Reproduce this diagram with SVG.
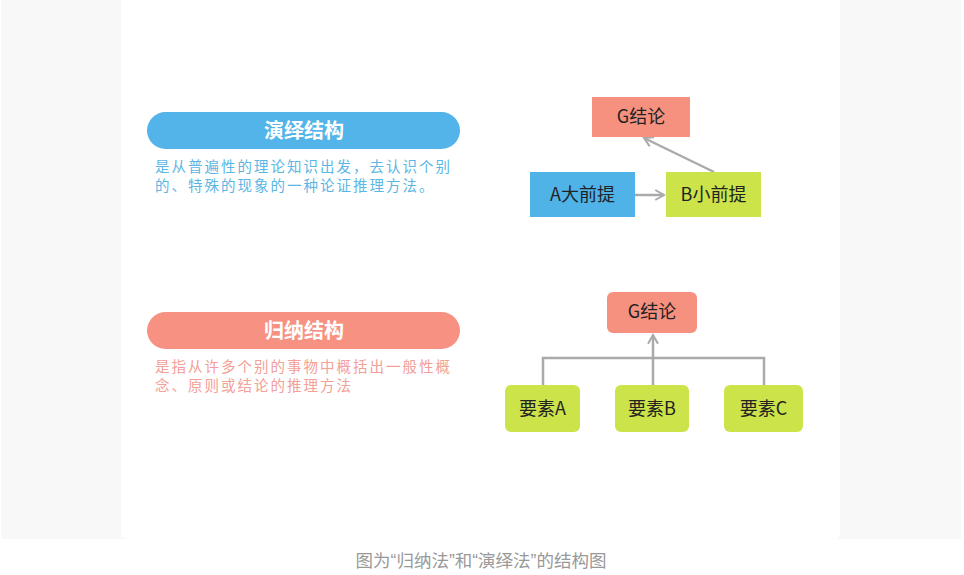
<svg xmlns="http://www.w3.org/2000/svg" width="964" height="575" viewBox="0 0 964 575">
<style>
text{font-family:"Microsoft YaHei","Noto Sans CJK SC","Noto Sans",sans-serif}
.title{font-size:20px;font-weight:bold;fill:#fff;text-anchor:middle}
.node{font-size:18px;fill:#222;text-anchor:middle}
.d1{font-size:14.5px;fill:#5cb6e4;letter-spacing:2px}
.d2{font-size:14.5px;fill:#f3a096;letter-spacing:2px}
.conn{stroke:#aaaaaa;stroke-width:2.5;fill:none}
.q{font-family:"Liberation Sans",sans-serif}
</style>
<defs>
<marker id="ah" viewBox="0 0 10 10" refX="8" refY="5" markerWidth="5" markerHeight="5" orient="auto" markerUnits="strokeWidth">
<path d="M1,1 L8,5 L1,9" fill="none" stroke="#aaaaaa" stroke-width="1.6"/>
</marker>
</defs>
<rect x="0" y="0" width="964" height="575" fill="#fff"/>
<rect x="1" y="0" width="960" height="539" fill="#f8f8f8"/>
<rect x="121" y="-6" width="719" height="545" rx="6" fill="#fff"/>

<g id="deduction-title">
<rect x="147" y="112" width="313" height="37" rx="18.5" fill="#52b4e8"/>
<text class="title" x="304" y="138">演绎结构</text>
</g>
<g id="deduction-desc">
<text class="d1" x="155" y="172">是从普遍性的理论知识出发，去认识个别</text>
<text class="d1" x="155" y="191">的、特殊的现象的一种论证推理方法。</text>
</g>
<g id="induction-title">
<rect x="147" y="312" width="313" height="37" rx="18.5" fill="#f79283"/>
<text class="title" x="304" y="338">归纳结构</text>
</g>
<g id="induction-desc">
<text class="d2" x="155" y="372">是指从许多个别的事物中概括出一般性概</text>
<text class="d2" x="155" y="391">念、原则或结论的推理方法</text>
</g>

<g id="connectors">
<line class="conn" x1="635" y1="195" x2="664" y2="195" marker-end="url(#ah)"/>
<line class="conn" x1="714" y1="172" x2="644" y2="138" marker-end="url(#ah)"/>
<polyline class="conn" points="543,385 543,358 764,358 764,385"/>
<line class="conn" x1="653" y1="385" x2="653" y2="335" marker-end="url(#ah)"/>
</g>

<g id="g1">
<rect x="592" y="97" width="98" height="40" fill="#f7917f"/>
<text class="node" x="641" y="123">G结论</text>
</g>
<g id="a">
<rect x="530" y="172" width="105" height="45" fill="#4fb3e8"/>
<text class="node" x="582.5" y="201">A大前提</text>
</g>
<g id="b">
<rect x="666" y="172" width="95" height="45" fill="#cde34a"/>
<text class="node" x="713.5" y="201">B小前提</text>
</g>
<g id="g2">
<rect x="607" y="292" width="90" height="41" rx="6" fill="#f7917f"/>
<text class="node" x="652" y="318">G结论</text>
</g>
<g id="ea">
<rect x="505" y="385" width="75" height="47" rx="6" fill="#cde34a"/>
<text class="node" x="542.5" y="415">要素A</text>
</g>
<g id="eb">
<rect x="615" y="385" width="74" height="47" rx="6" fill="#cde34a"/>
<text class="node" x="652" y="415">要素B</text>
</g>
<g id="ec">
<rect x="724" y="385" width="79" height="47" rx="6" fill="#cde34a"/>
<text class="node" x="763.5" y="415">要素C</text>
</g>
<g id="caption">
<text x="481" y="567" text-anchor="middle" style="font-size:17.5px;fill:#999">图为<tspan class="q">“</tspan>归纳法<tspan class="q">”</tspan>和<tspan class="q">“</tspan>演绎法<tspan class="q">”</tspan>的结构图</text>
</g>
</svg>
